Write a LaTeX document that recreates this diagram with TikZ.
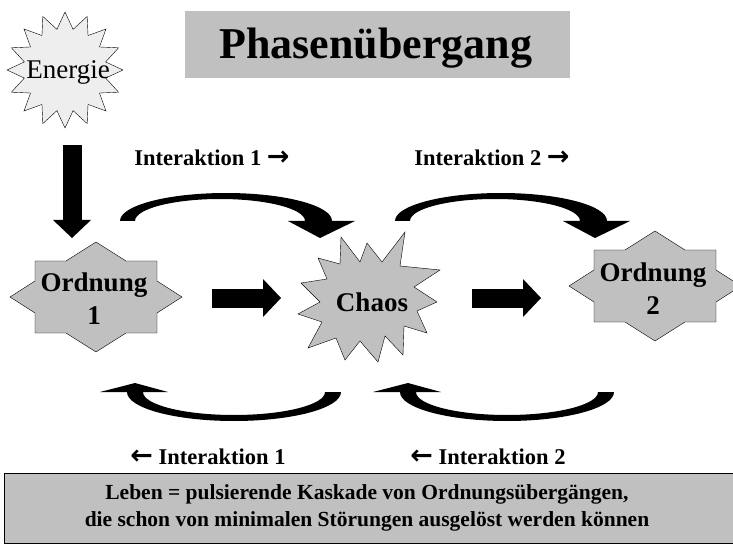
\documentclass[tikz,border=0pt]{standalone}
\usepackage{fontspec}
\setmainfont{Liberation Serif}
\newfontfamily\arrowfont{DejaVu Sans}
\usetikzlibrary{shapes,arrows.meta,positioning}

\definecolor{boxgray}{HTML}{C0C0C0}
\definecolor{energygray}{HTML}{EEEEEE}

\newcommand{\rarrow}{{\arrowfont\bfseries\fontsize{27}{27}\selectfont\char"2192}}
\newcommand{\larrow}{{\arrowfont\bfseries\fontsize{27}{27}\selectfont\char"2190}}

\tikzset{
  bigtext/.style={font=\fontsize{27}{33}\selectfont\bfseries, align=center},
  inttext/.style={font=\fontsize{22.5}{26}\selectfont\bfseries},
  grayshape/.style={draw=black, fill=boxgray, line join=miter},
  blockarrow/.style={line width=19pt,
    -{Triangle[length=18pt 0,width=38pt 0,line width=0pt]}},
  ordstar/.pic={
    \draw[grayshape] (86,0) -- (61,16) -- (61,36) -- (30,36) -- (0,55)
      -- (-30,36) -- (-61,36) -- (-61,16) -- (-86,0) -- (-61,-16)
      -- (-61,-36) -- (-30,-36) -- (0,-55) -- (30,-36) -- (61,-36)
      -- (61,-16) -- cycle;
  },
  curveover/.pic={
    \fill (0,0) arc[start angle=180, end angle=360, x radius=106, y radius=28]
      -- (235,0) -- (200,17) -- (168,0) -- (185,0)
      arc[start angle=0, end angle=-180, x radius=85, y radius=22] -- cycle;
  },
  curveunder/.pic={
    \fill (0,0) arc[start angle=180, end angle=0, x radius=107, y radius=29]
      -- (198,0) arc[start angle=0, end angle=180, x radius=91, y radius=23]
      -- (41,0) -- (8,-9) -- (-27,0) -- cycle;
  },
}

\begin{document}
\begin{tikzpicture}[x=1pt,y=-1pt]
  \useasboundingbox (0,0) rectangle (733,545);

  % title
  \fill[boxgray] (185,11) rectangle (570,78);
  \node [font=\fontsize{44}{48}\selectfont\bfseries] (title) at (376,48) {Phasenübergang};

  % energy
  \node [draw, fill=energygray, star, star points=16, star point ratio=1.4,
         minimum size=116pt, inner sep=0pt] (energie) at (65,70) {};
  \node [font=\fontsize{27}{30}\selectfont] (energietext) at (68,72) {Energie};

  % the three states
  \pic (ord1) at (96,297) {ordstar};
  \pic (ord2) at (655,286) {ordstar};
  \draw[grayshape] (405,232) -- (400,266) -- (440,270) -- (414,287) -- (437,302)
    -- (417,311) -- (427,333) -- (404,326) -- (403,355) -- (385,336) -- (378,362)
    -- (360,341) -- (345,360) -- (336,338) -- (308,348) -- (322,322) -- (298,314)
    -- (320,302) -- (301,283) -- (327,279) -- (318,258) -- (340,264) -- (341,237)
    -- (360,262) -- (367,243) -- (382,262) -- cycle;

  \node [bigtext] (ordnung1) at (94,299) {Ordnung\\1};
  \node [bigtext] (chaos) at (372,302) {Chaos};
  \node [bigtext] (ordnung2) at (653,289) {Ordnung\\2};

  % block arrows
  \coordinate (e1) at (72,145);
  \coordinate (e2) at (72,238);
  \coordinate (a1) at (212,298);
  \coordinate (a2) at (281,298);
  \coordinate (b1) at (472,298);
  \coordinate (b2) at (541,298);
  \draw[blockarrow] (e1) -- (e2);
  \draw[blockarrow] (a1) -- (a2);
  \draw[blockarrow] (b1) -- (b2);

  % interactions
  \pic at (120,221) {curveover};
  \pic at (395,221) {curveover};
  \pic at (127,392) {curveunder};
  \pic at (400,392) {curveunder};

  \node [inttext] (int1top) at (212,158) {Interaktion 1 \rarrow};
  \node [inttext] (int2top) at (492,158) {Interaktion 2 \rarrow};
  \node [inttext] (int1bot) at (208,457) {\larrow\ Interaktion 1};
  \node [inttext] (int2bot) at (488,457) {\larrow\ Interaktion 2};

  % summary
  \node [draw, fill=boxgray, minimum width=734pt, minimum height=70pt,
         inner sep=0pt] (summary) at (371,508) {};
  \node [font=\fontsize{21.5}{27}\selectfont\bfseries, align=center] (summarytext)
    at (367,508) {Leben = pulsierende Kaskade von Ordnungsübergängen,\\
    die schon von minimalen Störungen ausgelöst werden können};
\end{tikzpicture}
\end{document}
